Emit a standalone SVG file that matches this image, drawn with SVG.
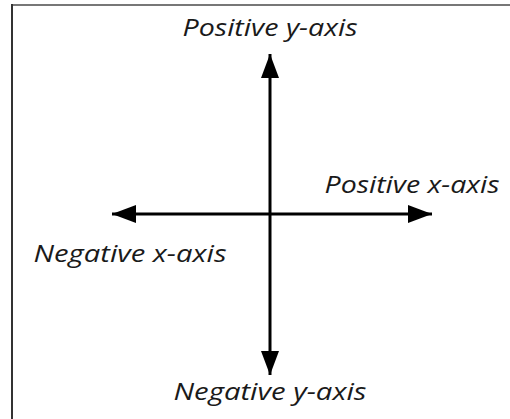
<svg xmlns="http://www.w3.org/2000/svg" width="510" height="419" viewBox="0 0 510 419">
<defs>
<style>
.lbl{font-family:"Open Sans","DejaVu Sans",sans-serif;font-style:italic;font-size:24px;fill:#1a1a1a;text-anchor:middle}
.axis{stroke:#000;stroke-width:3;fill:none}
</style>
<marker id="ah" viewBox="0 0 24 18" refX="24" refY="9" markerWidth="24" markerHeight="18" markerUnits="userSpaceOnUse" orient="auto">
<path d="M0,0 L24,9 L0,18 Z" fill="#000"/>
</marker>
</defs>
<rect width="510" height="419" fill="#fff"/>
<g id="frame">
<line x1="12" y1="5" x2="510" y2="5" stroke="#777" stroke-width="2"/>
<line x1="12" y1="4" x2="12" y2="419" stroke="#333" stroke-width="2"/>
</g>
<g id="connectors">
<line class="axis" x1="270" y1="214" x2="270" y2="54" marker-end="url(#ah)"/>
<line class="axis" x1="270" y1="214" x2="270" y2="375" marker-end="url(#ah)"/>
<line class="axis" x1="270" y1="214" x2="432" y2="214" marker-end="url(#ah)"/>
<line class="axis" x1="270" y1="214" x2="112" y2="214" marker-end="url(#ah)"/>
</g>
<g id="pos-y"><text class="lbl" x="270" y="36" textLength="175" lengthAdjust="spacingAndGlyphs">Positive y-axis</text></g>
<g id="pos-x"><text class="lbl" x="412" y="193" textLength="175" lengthAdjust="spacingAndGlyphs">Positive x-axis</text></g>
<g id="neg-x"><text class="lbl" x="130" y="262" textLength="193" lengthAdjust="spacingAndGlyphs">Negative x-axis</text></g>
<g id="neg-y"><text class="lbl" x="270" y="400" textLength="193" lengthAdjust="spacingAndGlyphs">Negative y-axis</text></g>
</svg>
